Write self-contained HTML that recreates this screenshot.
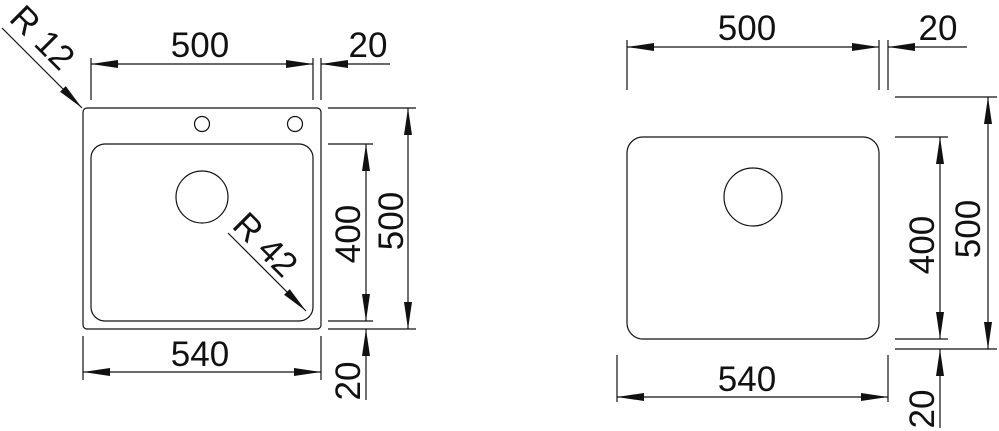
<!DOCTYPE html>
<html><head><meta charset="utf-8"><style>
html,body{margin:0;padding:0;background:#fff}
svg{display:block}
text{font-family:"Liberation Sans",sans-serif;font-size:35px;fill:#111}
</style></head><body>
<svg width="999" height="431" viewBox="0 0 999 431" xmlns="http://www.w3.org/2000/svg">
<defs>
<marker id="a" viewBox="0 -5 30 10" refX="27" refY="0" markerWidth="30" markerHeight="10" markerUnits="userSpaceOnUse" orient="auto-start-reverse">
<path d="M0,-4 L27,0 L0,4 z" fill="#111"/>
</marker>
</defs>
<g stroke="#111" stroke-width="1.2" fill="none">
<rect x="83" y="108" width="238" height="221" rx="4"/>
<rect x="91" y="144" width="222" height="177" rx="14"/>
<circle cx="202" cy="197" r="26"/>
<circle cx="202" cy="124" r="7.5"/>
<circle cx="295" cy="124" r="7.5"/>
<line x1="91" y1="58" x2="91" y2="100"/>
<line x1="313" y1="58" x2="313" y2="100"/>
<line x1="321" y1="58" x2="321" y2="100"/>
<line x1="91" y1="64" x2="313" y2="64" marker-start="url(#a)" marker-end="url(#a)"/>
<line x1="390" y1="64" x2="321" y2="64" marker-end="url(#a)"/>
<line x1="2" y1="28" x2="82" y2="108" marker-end="url(#a)"/>
<line x1="228" y1="233" x2="306" y2="311" marker-end="url(#a)"/>
<line x1="328" y1="108" x2="416" y2="108"/>
<line x1="328" y1="144" x2="373" y2="144"/>
<line x1="328" y1="321" x2="373" y2="321"/>
<line x1="328" y1="329" x2="416" y2="329"/>
<line x1="366" y1="144" x2="366" y2="321" marker-start="url(#a)" marker-end="url(#a)"/>
<line x1="366" y1="400" x2="366" y2="329" marker-end="url(#a)"/>
<line x1="408" y1="108" x2="408" y2="329" marker-start="url(#a)" marker-end="url(#a)"/>
<line x1="83" y1="336" x2="83" y2="380"/>
<line x1="321" y1="336" x2="321" y2="380"/>
<line x1="83" y1="372" x2="321" y2="372" marker-start="url(#a)" marker-end="url(#a)"/>

<rect x="627" y="137" width="252" height="202" rx="16"/>
<circle cx="753" cy="197" r="29"/>
<line x1="627" y1="40" x2="627" y2="90"/>
<line x1="879" y1="40" x2="879" y2="90"/>
<line x1="888" y1="40" x2="888" y2="90"/>
<line x1="627" y1="47" x2="879" y2="47" marker-start="url(#a)" marker-end="url(#a)"/>
<line x1="967" y1="47" x2="888" y2="47" marker-end="url(#a)"/>
<line x1="895" y1="97" x2="997" y2="97"/>
<line x1="895" y1="137" x2="948" y2="137"/>
<line x1="895" y1="339" x2="948" y2="339"/>
<line x1="895" y1="349" x2="997" y2="349"/>
<line x1="940" y1="137" x2="940" y2="339" marker-start="url(#a)" marker-end="url(#a)"/>
<line x1="940" y1="428" x2="940" y2="349" marker-end="url(#a)"/>
<line x1="988" y1="97" x2="988" y2="349" marker-start="url(#a)" marker-end="url(#a)"/>
<line x1="617" y1="355" x2="617" y2="402"/>
<line x1="888" y1="355" x2="888" y2="402"/>
<line x1="617" y1="397" x2="888" y2="397" marker-start="url(#a)" marker-end="url(#a)"/>
</g>
<text x="200" y="57" text-anchor="middle">500</text>
<text x="368" y="57" text-anchor="middle">20</text>
<text x="200" y="366" text-anchor="middle">540</text>
<text transform="translate(34,46) rotate(45)" text-anchor="middle">R 12</text>
<text transform="translate(257,253) rotate(45)" text-anchor="middle">R 42</text>
<text transform="translate(360,234) rotate(-90)" text-anchor="middle">400</text>
<text transform="translate(403,221) rotate(-90)" text-anchor="middle">500</text>
<text transform="translate(360,381) rotate(-90)" text-anchor="middle">20</text>
<text x="747" y="40" text-anchor="middle">500</text>
<text x="938" y="40" text-anchor="middle">20</text>
<text x="747" y="391" text-anchor="middle">540</text>
<text transform="translate(934,245) rotate(-90)" text-anchor="middle">400</text>
<text transform="translate(980,229) rotate(-90)" text-anchor="middle">500</text>
<text transform="translate(934,409) rotate(-90)" text-anchor="middle">20</text>
</svg>
</body></html>
